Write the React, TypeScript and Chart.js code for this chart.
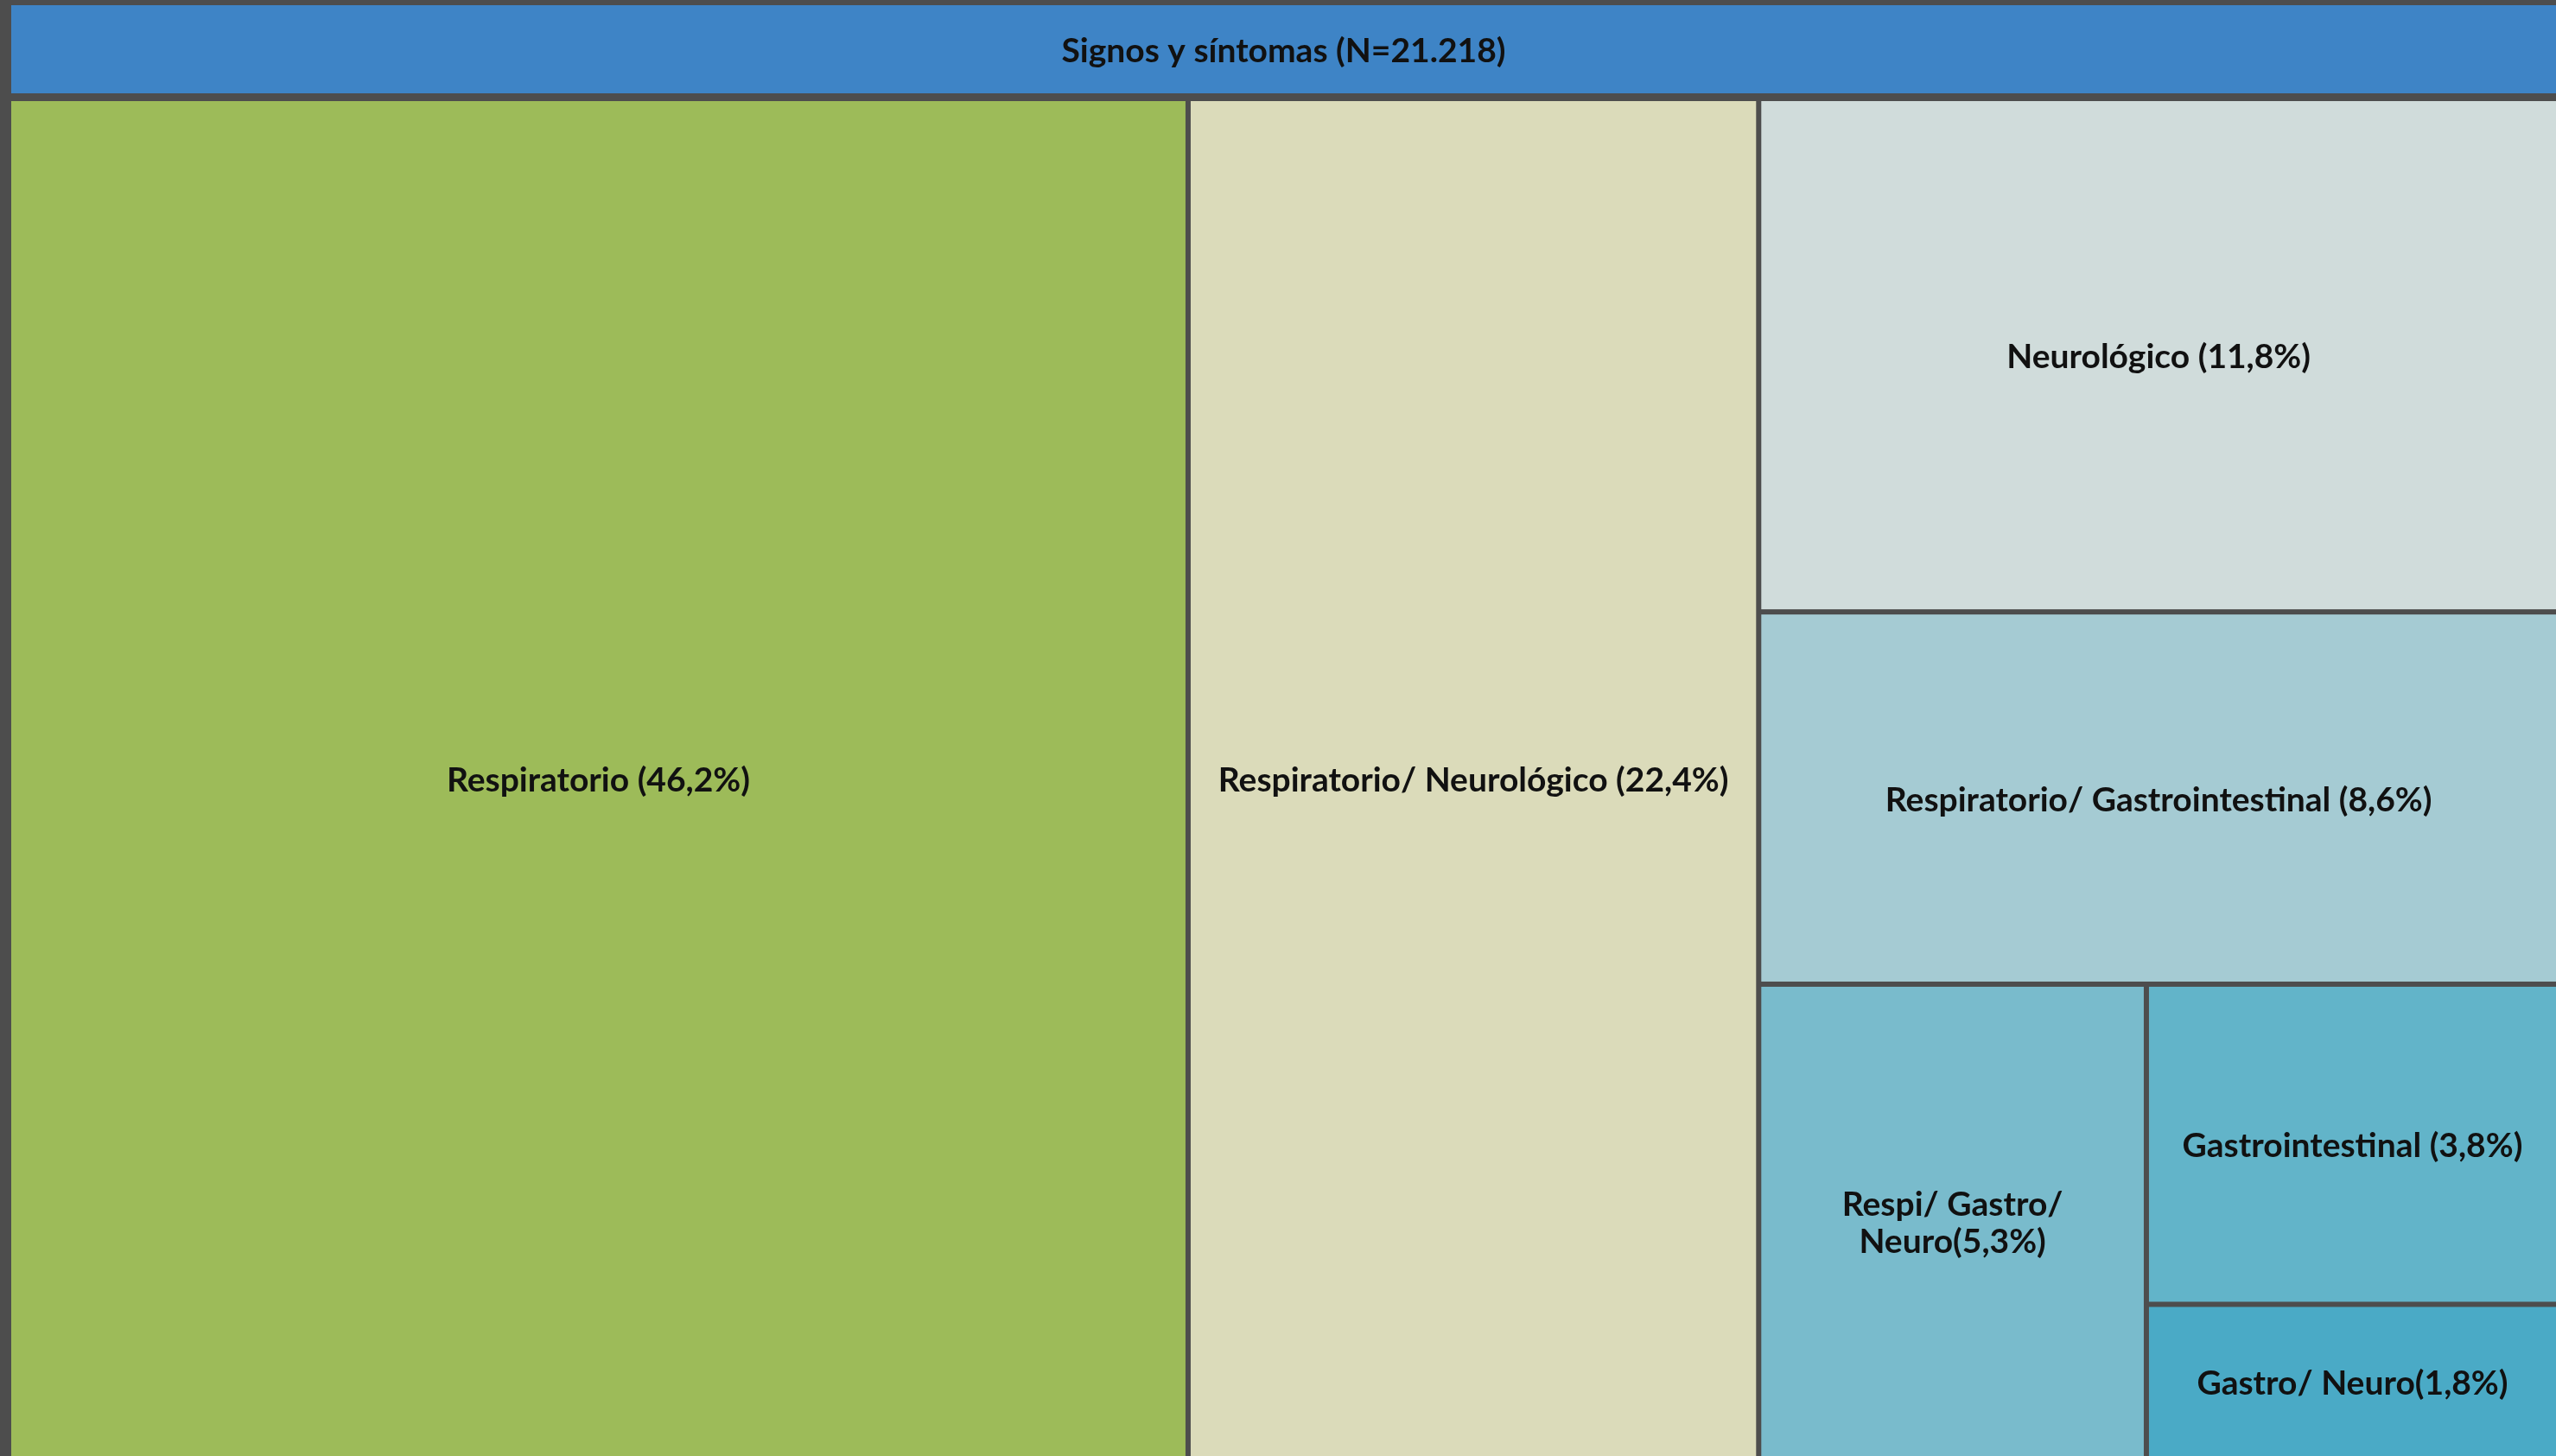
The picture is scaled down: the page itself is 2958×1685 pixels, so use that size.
import { useEffect, useRef } from "react";
import { Chart, registerables } from "chart.js";

Chart.register(...registerables);

// ---- data ----
const rootLabel = "Signos y síntomas (N=21.218)";
const categories = [
  "Respiratorio (46,2%)",
  "Respiratorio/ Neurológico (22,4%)",
  "Neurológico (11,8%)",
  "Respiratorio/ Gastrointestinal (8,6%)",
  "Respi/ Gastro/ Neuro(5,3%)",
  "Gastrointestinal (3,8%)",
  "Gastro/ Neuro(1,8%)",
];
const values = [46.2, 22.4, 11.8, 8.6, 5.3, 3.8, 1.8];
const colors = ["#9dbb59", "#dbdbba", "#d0dcdb", "#a5cbd3", "#79bbcc", "#62b4c9", "#4aaac6"];

// ---- style ----
const HEADER_COLOR = "#3e84c6";
const BORDER_COLOR = "#4d4d4d";
const HEADER_H = 105;
const GAP = 6;
const FONT_SIZE = 39;
const FONT = `bold ${FONT_SIZE}px Lato`;
const TEXT_COLOR = "#111111";
const LINE_H = 43;

type R = { x: number; y: number; w: number; h: number };

function wrap(ctx: CanvasRenderingContext2D, text: string, maxW: number): string[] {
  const words = text.split(" ");
  const lines: string[] = [];
  let cur = "";
  for (const w of words) {
    const t = cur ? cur + " " + w : w;
    if (cur && ctx.measureText(t).width > maxW) {
      lines.push(cur);
      cur = w;
    } else cur = t;
  }
  if (cur) lines.push(cur);
  return lines;
}

const treemapPlugin = {
  id: "treemapCells",
  beforeDraw(chart: any) {
    const ctx = chart.ctx as CanvasRenderingContext2D;
    ctx.save();
    ctx.fillStyle = BORDER_COLOR;
    ctx.fillRect(0, 0, chart.width, chart.height);
    ctx.restore();
  },
  afterDatasetsDraw(chart: any) {
    const ctx = chart.ctx as CanvasRenderingContext2D;
    const xs = chart.scales.x;
    const ys = chart.scales.y;
    const area = chart.chartArea;
    const areaW = area.right - area.left;
    const areaH = area.bottom - area.top;
    const headerFrac = HEADER_H / areaH;
    const gapFrac = GAP / areaH;

    const drawCell = (c: R, color: string, label: string, childTop: number) => {
      let l = xs.getPixelForValue(c.x);
      let r = xs.getPixelForValue(c.x + c.w);
      let t = ys.getPixelForValue(c.y);
      let b = ys.getPixelForValue(c.y + c.h);
      if (l > area.left + 0.5) l += GAP / 2;
      if (r < area.right - 0.5) r -= GAP / 2;
      if (t > childTop + 0.5) t += GAP / 2;
      if (b < area.bottom - 0.5) b -= GAP / 2;
      ctx.save();
      ctx.fillStyle = color;
      ctx.fillRect(l, t, r - l, b - t);
      ctx.font = FONT;
      ctx.fillStyle = TEXT_COLOR;
      ctx.textAlign = "center";
      ctx.textBaseline = "alphabetic";
      const lines = wrap(ctx, label, r - l - 24);
      const cx = (l + r) / 2;
      const cy = (t + b) / 2 + 0.36 * FONT_SIZE + 1;
      lines.forEach((ln, i) => {
        ctx.fillText(ln, cx, cy + (i - (lines.length - 1) / 2) * LINE_H);
      });
      ctx.restore();
    };

    // root header
    drawCell({ x: 0, y: 0, w: 1, h: headerFrac }, HEADER_COLOR, rootLabel, area.top);

    // children: slice along the longer side, one item at a time
    let rect: R = { x: 0, y: headerFrac + gapFrac, w: 1, h: 1 - headerFrac - gapFrac };
    const childTop = ys.getPixelForValue(rect.y);
    let remaining = values.reduce((a, b) => a + b, 0);
    values.forEach((v, i) => {
      let cell: R;
      if (i === values.length - 1) {
        cell = { ...rect };
      } else {
        const f = v / remaining;
        if (rect.w * areaW >= rect.h * areaH) {
          cell = { x: rect.x, y: rect.y, w: rect.w * f, h: rect.h };
          rect = { x: rect.x + cell.w, y: rect.y, w: rect.w - cell.w, h: rect.h };
        } else {
          cell = { x: rect.x, y: rect.y, w: rect.w, h: rect.h * f };
          rect = { x: rect.x, y: rect.y + cell.h, w: rect.w, h: rect.h - cell.h };
        }
      }
      remaining -= v;
      drawCell(cell, colors[i], categories[i], childTop);
    });
  },
};

export default function App() {
  const ref = useRef<HTMLCanvasElement | null>(null);
  useEffect(() => {
    document.body.style.margin = "0";
    document.body.style.overflow = "hidden";
    if (!ref.current) return;
    const chart = new Chart(ref.current, {
      type: "scatter",
      data: { labels: categories, datasets: [{ label: rootLabel, data: [] }] },
      options: {
        animation: false,
        responsive: true,
        maintainAspectRatio: false,
        layout: { padding: { left: 13, top: 6, right: 0, bottom: 0 } },
        scales: {
          x: { type: "linear", min: 0, max: 1, display: false },
          y: { type: "linear", min: 0, max: 1, reverse: true, display: false },
        },
        plugins: { legend: { display: false }, tooltip: { enabled: false }, title: { display: false } },
      },
      plugins: [treemapPlugin],
    });
    return () => chart.destroy();
  }, []);
  return (
    <div style={{ position: "relative", width: "100vw", height: "100vh" }}>
      <canvas ref={ref} />
    </div>
  );
}
